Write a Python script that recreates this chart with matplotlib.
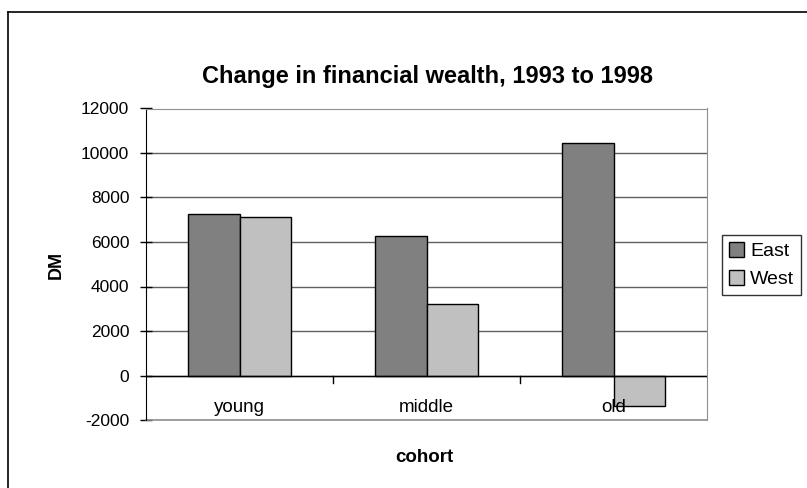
import matplotlib
matplotlib.use("Agg")
import matplotlib.pyplot as plt
import numpy as np
from matplotlib.lines import Line2D

categories = ["young", "middle", "old"]
east = [7250, 6270, 10450]
west = [7120, 3200, -1350]
yticks = [-2000, 0, 2000, 4000, 6000, 8000, 10000, 12000]

plt.rcParams['font.family'] = ['Liberation Sans', 'DejaVu Sans']

W, H = 807, 488
fig = plt.figure(figsize=(W/100, H/100), dpi=100)
L, R, T, B = 146, 707, 108.5, 420
ax = fig.add_axes([L/W, 1-B/H, (R-L)/W, (B-T)/H])

x = np.arange(len(categories))
bw = 0.278
ax.bar(x - bw/2, east, bw, color='#808080', edgecolor='black', linewidth=1, label='East', zorder=3)
ax.bar(x + bw/2, west, bw, color='#C0C0C0', edgecolor='black', linewidth=1, label='West', zorder=3)

ax.set_xlim(-0.5, 2.5)
ax.set_ylim(-2000, 12000)
ax.set_yticks(yticks)
ax.set_yticklabels([str(v) for v in yticks], fontsize=12.5)
ax.yaxis.grid(True, color='#606060', linewidth=1, zorder=0)
ax.tick_params(axis='y', direction='inout', length=8, width=1, pad=8, color='black')

for s in ['top', 'right']:
    ax.spines[s].set_color('#909090')
ax.spines['left'].set_color('black')
ax.spines['bottom'].set_visible(False)
ax.axhline(0, color='black', linewidth=1, zorder=4)
ax.plot([-0.5, 2.5], [-2000, -2000], color='#909090', linewidth=1.2, clip_on=False, zorder=2)

ax.set_xticks(x)
ax.set_xticklabels([])
ax.tick_params(axis='x', length=0)
for i, c in enumerate(categories):
    ax.text(i, -1450, c, ha='center', va='center', fontsize=13.5, zorder=5)
for b in [0.5, 1.5]:
    ax.plot([b, b], [0, -320], color='black', linewidth=1, zorder=4)

fig.text(56/W, 1-265/H, 'DM', ha='center', va='center', fontsize=13, fontweight='bold', rotation=90)
fig.text(424/W, 1-458/H, 'cohort', ha='center', va='center', fontsize=13.5, fontweight='bold')
fig.text(428/W, 1-76/H, 'Change in financial wealth, 1993 to 1998',
         ha='center', va='center', fontsize=17, fontweight='bold')

leg = fig.legend(loc='center left', bbox_to_anchor=(722/W, 1-265/H), fontsize=14,
                 frameon=True, fancybox=False, edgecolor='black', handlelength=0.8,
                 handleheight=0.8, handletextpad=0.3, borderpad=0.35, labelspacing=0.5,
                 borderaxespad=0)
leg.get_frame().set_linewidth(1)

fig.add_artist(Line2D([8/W, 8/W], [0, 1-12/H], color='black', linewidth=1.2, transform=fig.transFigure))
fig.add_artist(Line2D([8/W, 1], [1-12/H, 1-12/H], color='black', linewidth=1.2, transform=fig.transFigure))

fig.savefig('out.png', dpi=100)
